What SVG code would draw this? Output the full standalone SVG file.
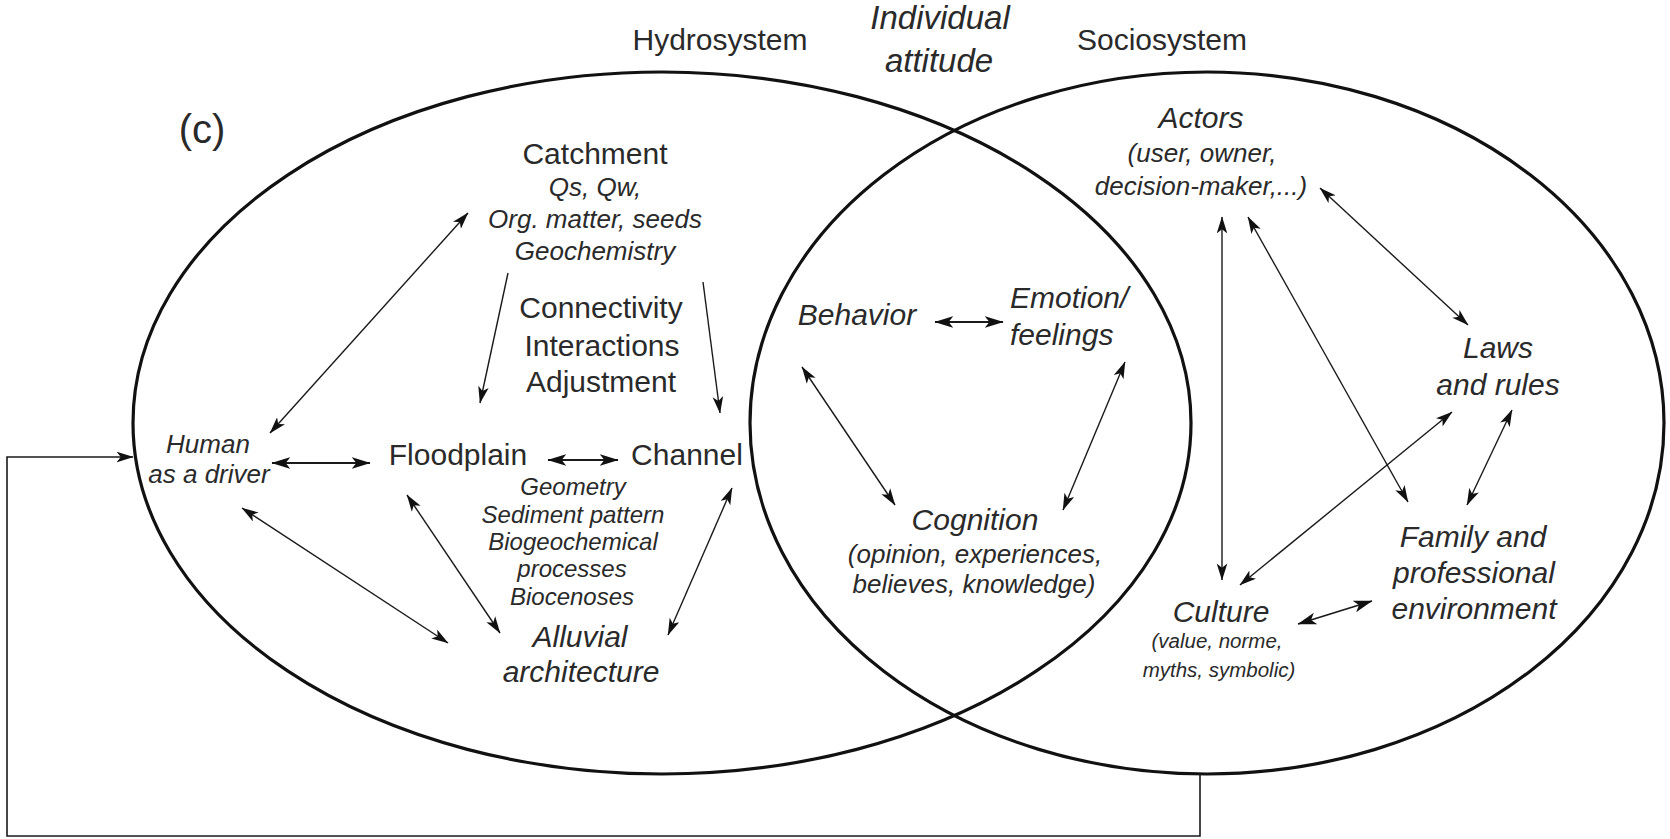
<svg xmlns="http://www.w3.org/2000/svg" width="1670" height="839" viewBox="0 0 1670 839">
  <style>
    text { font-family: "Liberation Sans", Arial, Helvetica, sans-serif; fill: #2a2a2a; text-anchor: middle; }
    .it { font-style: italic; }
    .big { font-size: 30px; }
    .sub { font-size: 26px; }
    .small { font-size: 24px; }
    .tiny { font-size: 20.5px; }
    .left { text-anchor: start; }
    .ring { fill: none; stroke: #111; stroke-width: 3.2; }
    .link { fill: none; stroke: #1a1a1a; stroke-width: 1.4; marker-start: url(#ah); marker-end: url(#ah); }
    .link.one { marker-start: none; }
    .link.bold { stroke-width: 2.2; marker-start: url(#ahb); marker-end: url(#ahb); }
    .loop { fill: none; stroke: #1a1a1a; stroke-width: 1.6; marker-end: url(#ah); }
  </style>
  <defs>
    <marker id="ah" viewBox="0 0 16 10" refX="15.5" refY="5" markerWidth="17" markerHeight="11" markerUnits="userSpaceOnUse" orient="auto-start-reverse">
      <path d="M0,0 L16,5 L0,10 L4,5 Z" fill="#111"/>
    </marker>
    <marker id="ahb" viewBox="0 0 16 10" refX="15.5" refY="5" markerWidth="19" markerHeight="13" markerUnits="userSpaceOnUse" orient="auto-start-reverse">
      <path d="M0,0 L16,5 L0,10 L4,5 Z" fill="#111"/>
    </marker>
  </defs>

  <rect width="1670" height="839" fill="#fff"/>

  <!-- the two overlapping systems -->
  <g id="hydrosystem">
    <ellipse class="ring" cx="662" cy="423" rx="529" ry="351"/>
    <text class="big" x="720" y="50">Hydrosystem</text>
  </g>
  <g id="sociosystem">
    <ellipse class="ring" cx="1207" cy="423" rx="457" ry="351"/>
    <text class="big" x="1162" y="50">Sociosystem</text>
  </g>
  <g id="individual-attitude">
    <text class="it" style="font-size:33px" x="940" y="29">Individual</text>
    <text class="it" style="font-size:33px" x="939" y="72">attitude</text>
  </g>
  <g id="panel-label">
    <text style="font-size:40px" x="202" y="143">(c)</text>
  </g>

  <!-- hydrosystem nodes -->
  <g id="catchment">
    <text class="big" x="595" y="164">Catchment</text>
    <text class="it sub" x="595" y="196">Qs, Qw,</text>
    <text class="it sub" x="595" y="228">Org. matter, seeds</text>
    <text class="it sub" x="595" y="260">Geochemistry</text>
  </g>
  <g id="processes">
    <text class="big" x="601" y="318">Connectivity</text>
    <text class="big" x="602" y="356">Interactions</text>
    <text class="big" x="601" y="392">Adjustment</text>
  </g>
  <g id="human">
    <text class="it" style="font-size:26px" x="208" y="453">Human</text>
    <text class="it" style="font-size:26px" x="209" y="483">as a driver</text>
  </g>
  <g id="floodplain">
    <text class="big" x="458" y="465">Floodplain</text>
  </g>
  <g id="channel">
    <text class="big" x="687" y="465">Channel</text>
  </g>
  <g id="channel-attributes">
    <text class="it small" x="573" y="495">Geometry</text>
    <text class="it small" x="573" y="523">Sediment pattern</text>
    <text class="it small" x="573" y="550">Biogeochemical</text>
    <text class="it small" x="572" y="577">processes</text>
    <text class="it small" x="572" y="605">Biocenoses</text>
  </g>
  <g id="alluvial">
    <text class="it big" x="580" y="647">Alluvial</text>
    <text class="it big" x="581" y="682">architecture</text>
  </g>

  <!-- individual attitude nodes -->
  <g id="behavior">
    <text class="it big" x="857" y="325">Behavior</text>
  </g>
  <g id="emotion">
    <text class="it big left" x="1010" y="308">Emotion/</text>
    <text class="it big left" x="1010" y="345">feelings</text>
  </g>
  <g id="cognition">
    <text class="it big" x="975" y="530">Cognition</text>
    <text class="it sub" x="975" y="563">(opinion, experiences,</text>
    <text class="it sub" x="974" y="593">believes, knowledge)</text>
  </g>

  <!-- sociosystem nodes -->
  <g id="actors">
    <text class="it big" x="1201" y="128">Actors</text>
    <text class="it sub" x="1202" y="162">(user, owner,</text>
    <text class="it sub" x="1201" y="195">decision-maker,...)</text>
  </g>
  <g id="laws">
    <text class="it big" x="1498" y="358">Laws</text>
    <text class="it big" x="1498" y="395">and rules</text>
  </g>
  <g id="family">
    <text class="it big" x="1473" y="547">Family and</text>
    <text class="it big" x="1474" y="583">professional</text>
    <text class="it big" x="1474" y="619">environment</text>
  </g>
  <g id="culture">
    <text class="it big" x="1221" y="622">Culture</text>
    <text class="it tiny" x="1217" y="648">(value, norme,</text>
    <text class="it tiny" x="1219" y="677">myths, symbolic)</text>
  </g>

  <!-- connectors -->
  <g id="connectors">
    <line class="link" x1="270" y1="433" x2="468" y2="213"/>
    <line class="link bold" x1="272" y1="463" x2="370" y2="463"/>
    <line class="link" x1="242" y1="508" x2="448" y2="643"/>
    <line class="link" x1="407" y1="495" x2="500" y2="633"/>
    <line class="link bold" x1="548" y1="460" x2="618" y2="460"/>
    <line class="link" x1="732" y1="488" x2="668" y2="635"/>
    <line class="link one" x1="508" y1="273" x2="480" y2="403"/>
    <line class="link one" x1="703" y1="282" x2="720" y2="413"/>

    <line class="link bold" x1="935" y1="322" x2="1003" y2="322"/>
    <line class="link" x1="802" y1="367" x2="895" y2="505"/>
    <line class="link" x1="1125" y1="362" x2="1063" y2="510"/>

    <line class="link" x1="1320" y1="188" x2="1468" y2="325"/>
    <line class="link" x1="1222" y1="217" x2="1222" y2="580"/>
    <line class="link" x1="1248" y1="217" x2="1408" y2="502"/>
    <line class="link" x1="1240" y1="585" x2="1452" y2="412"/>
    <line class="link" x1="1512" y1="410" x2="1467" y2="505"/>
    <line class="link bold" style="stroke-width:1.8" x1="1298" y1="624" x2="1372" y2="601"/>

    <!-- feedback from the sociosystem back to the human driver -->
    <polyline class="loop" points="1200,774 1200,836 7,836 7,457 133,457"/>
  </g>
</svg>
